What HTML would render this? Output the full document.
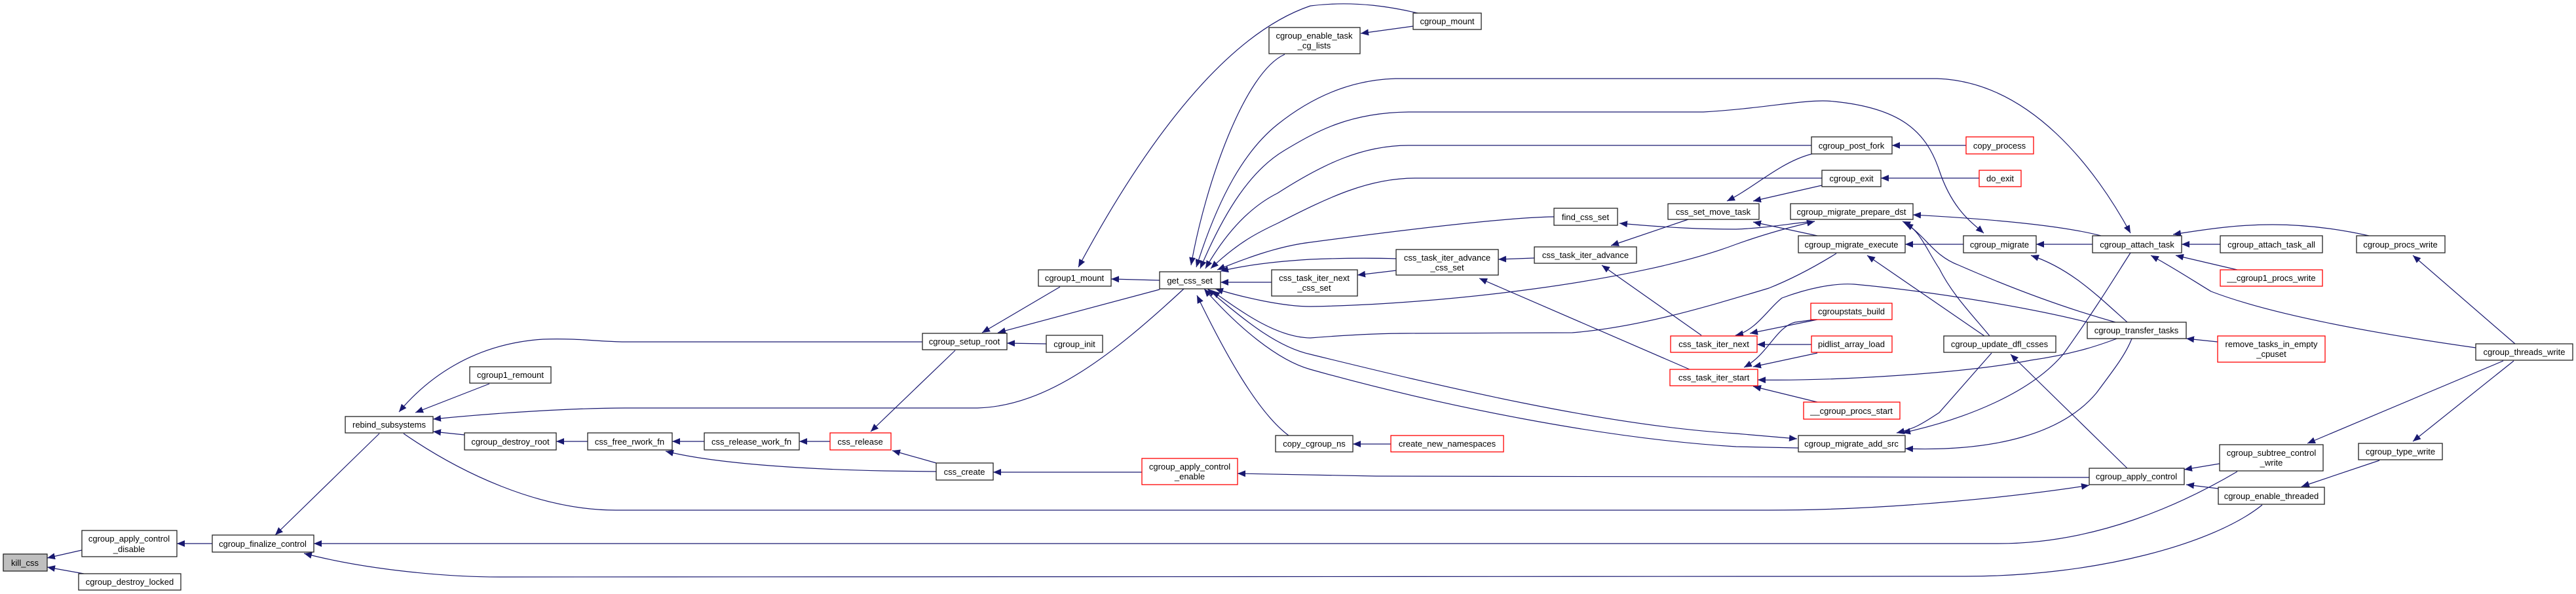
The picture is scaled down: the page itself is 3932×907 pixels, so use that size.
<!DOCTYPE html>
<html><head><meta charset="utf-8">
<style>
html,body{margin:0;padding:0;background:#fff;}
svg{display:block;}
text{font-family:"Liberation Sans",sans-serif;font-size:13px;fill:#000;}
</style></head>
<body>
<svg width="3932" height="907" viewBox="0 0 3932 907" xmlns="http://www.w3.org/2000/svg">
<defs>
<marker id="a" markerUnits="userSpaceOnUse" markerWidth="12" markerHeight="10" refX="12" refY="5" orient="auto-start-reverse">
<path d="M0,0 L12,5 L0,10 z" fill="#191970"/>
</marker>
</defs>
<g fill="none" stroke="#191970" stroke-width="1.2" marker-start="url(#a)">
<path d="M72,852 L125,840"/>
<path d="M72,866 L128,876"/>
<path d="M270,830 L324,830"/>
<path d="M420,817 L579,662"/>
<path d="M479,830 L3050,830 C3200,830 3330,770 3415,720"/>
<path d="M464,845 C560,870 680,881 762,881 L3000,880 C3200,880 3380,830 3453,771"/>
<path d="M609,629 C650,580 720,525 829,518 C880,516 920,522 953,522 L1408,522"/>
<path d="M634,630 L747,586"/>
<path d="M661,640 C760,630 880,623 954,623 L1492,623 C1600,620 1700,540 1807,441"/>
<path d="M661,659 L709,664"/>
<path d="M3189,741 C3100,755 2900,779 2700,779 L940,779 C820,779 700,720 616,662"/>
<path d="M849,674 L897,674"/>
<path d="M1026,674 L1075,674"/>
<path d="M1220,674 L1267,674"/>
<path d="M1016,689 C1100,710 1250,717 1350,719 L1429,720"/>
<path d="M1329,659 L1458,535"/>
<path d="M1362,688 L1429,707"/>
<path d="M1646,408 C1720,270 1850,60 2000,9 C2070,0 2130,12 2164,20"/>
<path d="M1696,426 L1770,428"/>
<path d="M1499,508 L1618,438"/>
<path d="M1523,508 L1770,442"/>
<path d="M1537,524 L1597,525"/>
<path d="M1516,721 L1743,721"/>
<path d="M1889,723 L2100,727 L3189,729"/>
<path d="M1818,405 C1840,280 1900,110 1961,83"/>
<path d="M2077,51 L2157,40"/>
<path d="M1826,408 C1860,300 1900,230 1950,190 C2000,150 2060,122 2130,120 L2957,120 C3100,125 3200,260 3252,356" marker-end="url(#a)"/>
<path d="M1832,410 C1870,320 1910,260 1960,230 C2010,200 2060,172 2150,171 L2600,171 C2700,165 2760,150 2800,155 C2900,165 2940,200 2960,260 C2980,320 3010,340 3028,356" marker-end="url(#a)"/>
<path d="M1840,410 C1880,340 1920,310 1950,295 C2020,250 2080,222 2150,222 L2765,222"/>
<path d="M1848,410 C1890,370 1920,355 1950,341 C2030,300 2090,272 2160,272 L2781,272"/>
<path d="M1858,412 C1900,395 1950,376 2000,370 C2150,350 2300,332 2372,331"/>
<path d="M1863,414 C1900,405 1950,399 2000,396 C2050,394 2100,394 2131,395"/>
<path d="M1863,431 L1941,431"/>
<path d="M1855,441 C1900,455 1960,468 2000,468 C2200,465 2500,430 2650,373 C2700,355 2740,345 2770,338" marker-end="url(#a)"/>
<path d="M1850,444 C1900,480 1950,515 2000,516 C2050,512 2100,509 2150,509 L2400,508 C2500,500 2600,470 2700,440 C2750,420 2790,395 2803,387"/>
<path d="M1843,441 C1900,490 1950,530 2000,541 C2200,590 2450,650 2650,662 L2743,670" marker-end="url(#a)"/>
<path d="M1838,441 C1890,500 1950,550 2000,564 C2200,620 2450,670 2650,682 L2745,684"/>
<path d="M1827,451 C1870,540 1920,630 1967,665"/>
<path d="M2065,678 L2123,678"/>
<path d="M2072,420 L2131,413"/>
<path d="M2287,396 L2342,394"/>
<path d="M2472,341 C2550,348 2600,350 2650,350 C2700,348 2740,340 2770,338"/>
<path d="M2459,375 L2577,335"/>
<path d="M2445,405 L2597,512"/>
<path d="M2258,425 L2579,564"/>
<path d="M2636,307 C2680,285 2720,245 2770,234"/>
<path d="M2676,307 L2781,283"/>
<path d="M2676,339 L2774,360"/>
<path d="M2888,222 L3001,222"/>
<path d="M2871,272 L3021,272"/>
<path d="M2920,328 C3050,335 3150,345 3207,360"/>
<path d="M2904,338 C2930,350 2940,380 2960,410 C2980,450 3010,480 3037,513"/>
<path d="M2908,341 C2940,360 2950,390 2990,405 C3070,440 3150,470 3229,492"/>
<path d="M2908,373 L2997,373"/>
<path d="M2850,390 L3029,513"/>
<path d="M3108,373 L3194,373"/>
<path d="M3100,390 C3160,410 3200,450 3247,492"/>
<path d="M2671,509 L2774,488"/>
<path d="M2682,526 L2765,526"/>
<path d="M2649,512 C2680,505 2700,470 2720,455 C2760,440 2800,432 2830,434 C2950,445 3100,470 3186,492"/>
<path d="M2662,561 C2700,540 2710,500 2740,492 L2770,488"/>
<path d="M2676,560 L2774,539"/>
<path d="M2683,580 C2800,582 3000,570 3100,550 C3170,540 3210,525 3234,516"/>
<path d="M2676,590 L2774,614"/>
<path d="M3069,541 L3247,715"/>
<path d="M2895,661 C2920,655 2930,650 2960,630 L3040,539"/>
<path d="M2904,661 C3000,640 3100,600 3150,540 C3200,470 3230,420 3252,386"/>
<path d="M2908,685 C3050,690 3150,660 3200,600 C3230,560 3245,540 3254,517"/>
<path d="M3330,373 L3389,373"/>
<path d="M3321,390 L3415,412"/>
<path d="M3317,358 C3380,348 3420,343 3469,343 C3530,343 3580,352 3616,360"/>
<path d="M3283,390 C3320,410 3350,430 3375,445 C3440,470 3560,500 3779,531"/>
<path d="M3337,517 L3385,522"/>
<path d="M3683,390 L3839,525"/>
<path d="M3522,677 L3821,551"/>
<path d="M3683,674 L3837,551"/>
<path d="M3513,743 L3632,703"/>
<path d="M3334,717 L3388,708"/>
<path d="M3337,740 L3386,746"/>
</g>
<g stroke-width="1.3" fill="#fff" stroke="#222">
<rect x="5" y="846" width="67" height="26" fill="#bfbfbf"/>
<rect x="125" y="810" width="145" height="40"/>
<rect x="120" y="876" width="156" height="25"/>
<rect x="324" y="817" width="155" height="26"/>
<rect x="527" y="636" width="134" height="25"/>
<rect x="717" y="560" width="124" height="25"/>
<rect x="709" y="661" width="140" height="26"/>
<rect x="897" y="661" width="129" height="26"/>
<rect x="1075" y="661" width="145" height="26"/>
<rect x="1267" y="661" width="93" height="26" stroke="#f00"/>
<rect x="1408" y="509" width="129" height="25"/>
<rect x="1597" y="512" width="86" height="26"/>
<rect x="1429" y="707" width="87" height="26"/>
<rect x="1585" y="412" width="111" height="25"/>
<rect x="1770" y="415" width="93" height="26"/>
<rect x="1743" y="700" width="146" height="40" stroke="#f00"/>
<rect x="1937" y="42" width="139" height="40"/>
<rect x="1941" y="412" width="131" height="40"/>
<rect x="1947" y="665" width="118" height="25"/>
<rect x="2157" y="20" width="104" height="25"/>
<rect x="2372" y="318" width="97" height="26"/>
<rect x="2131" y="381" width="156" height="39"/>
<rect x="2342" y="377" width="156" height="25"/>
<rect x="2123" y="665" width="172" height="25" stroke="#f00"/>
<rect x="2546" y="311" width="139" height="24"/>
<rect x="2550" y="513" width="132" height="25" stroke="#f00"/>
<rect x="2549" y="564" width="134" height="25" stroke="#f00"/>
<rect x="2765" y="209" width="123" height="26"/>
<rect x="3001" y="209" width="103" height="26" stroke="#f00"/>
<rect x="2781" y="260" width="90" height="25"/>
<rect x="3021" y="260" width="64" height="25" stroke="#f00"/>
<rect x="2733" y="311" width="187" height="24"/>
<rect x="2745" y="360" width="163" height="26"/>
<rect x="2997" y="360" width="111" height="26"/>
<rect x="3194" y="360" width="136" height="26"/>
<rect x="2764" y="463" width="124" height="25" stroke="#f00"/>
<rect x="2765" y="513" width="123" height="25" stroke="#f00"/>
<rect x="2753" y="614" width="147" height="26" stroke="#f00"/>
<rect x="2967" y="513" width="171" height="25"/>
<rect x="3186" y="492" width="151" height="25"/>
<rect x="2745" y="665" width="163" height="25"/>
<rect x="3189" y="715" width="145" height="25"/>
<rect x="3389" y="360" width="156" height="26"/>
<rect x="3389" y="412" width="156" height="25" stroke="#f00"/>
<rect x="3597" y="360" width="135" height="26"/>
<rect x="3385" y="513" width="164" height="40" stroke="#f00"/>
<rect x="3779" y="525" width="148" height="25"/>
<rect x="3388" y="679" width="158" height="40"/>
<rect x="3600" y="677" width="128" height="25"/>
<rect x="3386" y="744" width="162" height="26"/>
</g>
<g text-anchor="middle">
<text x="38" y="864">kill_css</text>
<text x="197" y="827">cgroup_apply_control</text>
<text x="197" y="843">_disable</text>
<text x="198" y="893">cgroup_destroy_locked</text>
<text x="401" y="835">cgroup_finalize_control</text>
<text x="594" y="653">rebind_subsystems</text>
<text x="779" y="577">cgroup1_remount</text>
<text x="779" y="679">cgroup_destroy_root</text>
<text x="961" y="679">css_free_rwork_fn</text>
<text x="1147" y="679">css_release_work_fn</text>
<text x="1313" y="679" >css_release</text>
<text x="1472" y="526">cgroup_setup_root</text>
<text x="1640" y="530">cgroup_init</text>
<text x="1472" y="725">css_create</text>
<text x="1640" y="429">cgroup1_mount</text>
<text x="1816" y="433">get_css_set</text>
<text x="1816" y="717">cgroup_apply_control</text>
<text x="1816" y="732">_enable</text>
<text x="2006" y="59">cgroup_enable_task</text>
<text x="2006" y="74">_cg_lists</text>
<text x="2006" y="429">css_task_iter_next</text>
<text x="2006" y="444">_css_set</text>
<text x="2006" y="682">copy_cgroup_ns</text>
<text x="2209" y="37">cgroup_mount</text>
<text x="2420" y="336">find_css_set</text>
<text x="2209" y="398">css_task_iter_advance</text>
<text x="2209" y="413">_css_set</text>
<text x="2420" y="394">css_task_iter_advance</text>
<text x="2209" y="682">create_new_namespaces</text>
<text x="2615" y="328">css_set_move_task</text>
<text x="2616" y="530">css_task_iter_next</text>
<text x="2616" y="581">css_task_iter_start</text>
<text x="2826" y="227">cgroup_post_fork</text>
<text x="3052" y="227">copy_process</text>
<text x="2826" y="277">cgroup_exit</text>
<text x="3053" y="277">do_exit</text>
<text x="2826" y="328">cgroup_migrate_prepare_dst</text>
<text x="2826" y="378">cgroup_migrate_execute</text>
<text x="3052" y="378">cgroup_migrate</text>
<text x="3262" y="378">cgroup_attach_task</text>
<text x="2826" y="480">cgroupstats_build</text>
<text x="2826" y="530">pidlist_array_load</text>
<text x="2826" y="632">__cgroup_procs_start</text>
<text x="3052" y="530">cgroup_update_dfl_csses</text>
<text x="3261" y="509">cgroup_transfer_tasks</text>
<text x="2826" y="682">cgroup_migrate_add_src</text>
<text x="3261" y="732">cgroup_apply_control</text>
<text x="3467" y="378">cgroup_attach_task_all</text>
<text x="3467" y="429">__cgroup1_procs_write</text>
<text x="3664" y="378">cgroup_procs_write</text>
<text x="3467" y="530">remove_tasks_in_empty</text>
<text x="3467" y="545">_cpuset</text>
<text x="3853" y="542">cgroup_threads_write</text>
<text x="3467" y="696">cgroup_subtree_control</text>
<text x="3467" y="711">_write</text>
<text x="3664" y="694">cgroup_type_write</text>
<text x="3467" y="762">cgroup_enable_threaded</text>
</g>
</svg>
</body></html>
